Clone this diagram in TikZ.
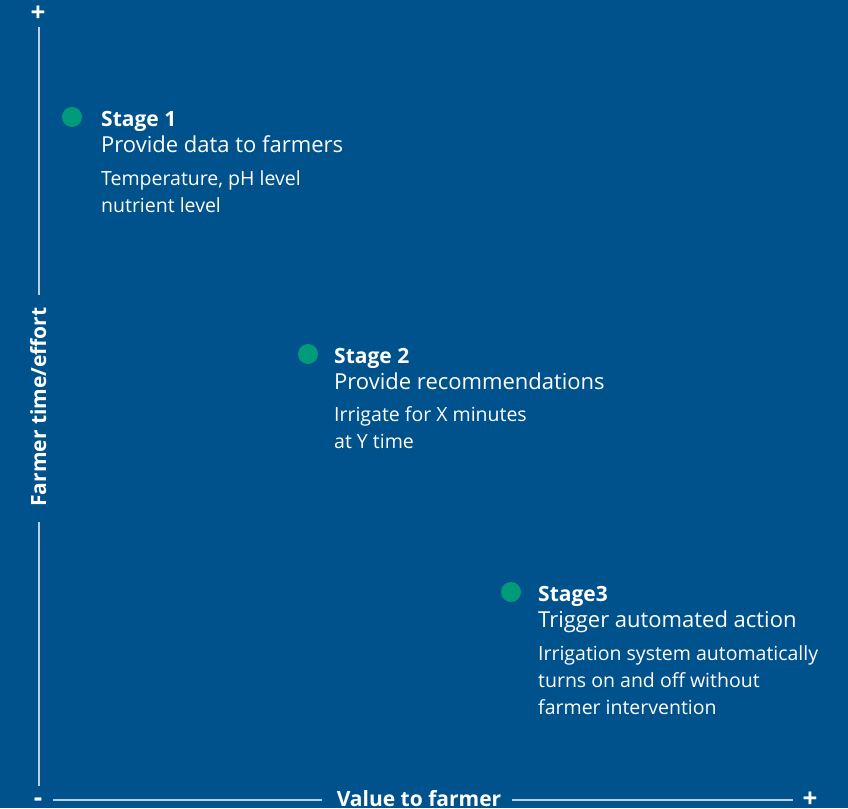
\documentclass[tikz,border=0pt]{standalone}
\usepackage{fontspec}
\setmainfont{Open Sans}
\usepackage{tikz}
\usetikzlibrary{positioning}

\definecolor{bgblue}{RGB}{0,82,140}
\definecolor{dotgreen}{RGB}{0,155,122}
\definecolor{axisgray}{RGB}{190,206,226}

\begin{document}
\begin{tikzpicture}[x=1pt, y=-1pt, font=\fontsize{17}{27}\selectfont,
    axisline/.style={axisgray, line width=1.5pt},
    sign/.style={white, anchor=base, font=\fontsize{26}{26}\selectfont\bfseries, inner sep=0pt, text height=16pt, text depth=0pt},
    axislabel/.style={white, font=\fontsize{21}{21}\selectfont\bfseries, inner sep=0pt, text depth=0pt},
    stagedot/.style={circle, fill=dotgreen, minimum size=20pt, inner sep=0pt},
    stagetitle/.style={white, anchor=base west, inner sep=0pt, font=\fontsize{21}{24}\selectfont\bfseries},
    stagehead/.style={white, anchor=base west, inner sep=0pt, font=\fontsize{22}{24}\selectfont},
    stagetext/.style={white, anchor=base west, inner sep=0pt, align=left, font=\fontsize{19.5}{27}\selectfont}]
        \useasboundingbox (0,0) rectangle (848,808);
        \fill[bgblue] (0,0) rectangle (848,808);

        % --- vertical axis: farmer time/effort ---
        \node[sign] (ytop) at (38,22) {+};
        \node[sign] (origin) at (38,806) {-};
        \node[axislabel, rotate=90, anchor=center] (ylabel) at (38,407) {Farmer time/effort};
        \coordinate (ya) at (39,27);
        \coordinate (yb) at (39,295);
        \coordinate (yc) at (39,522);
        \coordinate (yd) at (39,786);
        \draw[axisline] (ya) -- (yb);
        \draw[axisline] (yc) -- (yd);

        % --- horizontal axis: value to farmer ---
        \node[sign] (xright) at (810,807) {+};
        \node[axislabel, anchor=base] (xlabel) at (419,806) {Value to farmer};
        \coordinate (xa) at (53,800);
        \coordinate (xb) at (322,800);
        \coordinate (xc) at (512,800);
        \coordinate (xd) at (793,800);
        \draw[axisline] (xa) -- (xb);
        \draw[axisline] (xc) -- (xd);

        % --- stage 1 (text nodes sit on the baseline of their last line) ---
        \node[stagedot] (dot1) at (72,117) {};
        \node[stagetitle] (title1) at (101,126) {Stage 1};
        \node[stagehead] (head1) at (101,152) {Provide data to farmers};
        \node[stagetext] (text1) at (101,212) {Temperature, pH level\\nutrient level};

        % --- stage 2 ---
        \node[stagedot] (dot2) at (308,354) {};
        \node[stagetitle] (title2) at (334,363) {Stage 2};
        \node[stagehead] (head2) at (334,389) {Provide recommendations};
        \node[stagetext] (text2) at (334,448) {Irrigate for X minutes\\at Y time};

        % --- stage 3 ---
        \node[stagedot] (dot3) at (511,592) {};
        \node[stagetitle] (title3) at (538,601) {Stage3};
        \node[stagehead] (head3) at (538,627) {Trigger automated action};
        \node[stagetext] (text3) at (538,714) {Irrigation system automatically\\turns on and off without\\farmer intervention};
    \end{tikzpicture}
\end{document}
